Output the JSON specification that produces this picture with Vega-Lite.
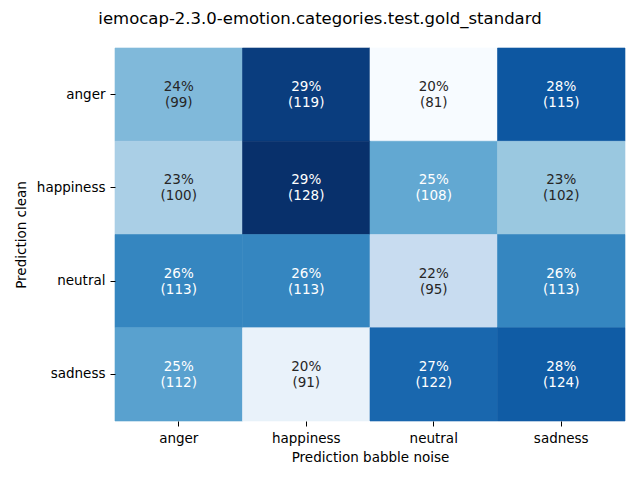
{
  "$schema": "https://vega.github.io/schema/vega-lite/v6.json",
  "width": 510,
  "height": 373,
  "autosize": {"type": "none"},
  "padding": {"left": 115, "top": 48, "right": 15, "bottom": 59},
  "background": "white",
  "config": {
    "font": "DejaVu Sans",
    "view": {"stroke": null}
  },
  "title": {
    "text": "iemocap-2.3.0-emotion.categories.test.gold_standard",
    "fontSize": 16.5,
    "fontWeight": "normal",
    "font": "DejaVu Sans",
    "color": "black",
    "anchor": "middle",
    "dx": -50,
    "offset": 20
  },
  "data": {
    "values": [
      {"clean": "anger", "babble": "anger", "count": 99, "pct": 0.23913, "label": "24%\n(99)"},
      {"clean": "anger", "babble": "happiness", "count": 119, "pct": 0.28744, "label": "29%\n(119)"},
      {"clean": "anger", "babble": "neutral", "count": 81, "pct": 0.19565, "label": "20%\n(81)"},
      {"clean": "anger", "babble": "sadness", "count": 115, "pct": 0.27778, "label": "28%\n(115)"},
      {"clean": "happiness", "babble": "anger", "count": 100, "pct": 0.22831, "label": "23%\n(100)"},
      {"clean": "happiness", "babble": "happiness", "count": 128, "pct": 0.29224, "label": "29%\n(128)"},
      {"clean": "happiness", "babble": "neutral", "count": 108, "pct": 0.24658, "label": "25%\n(108)"},
      {"clean": "happiness", "babble": "sadness", "count": 102, "pct": 0.23288, "label": "23%\n(102)"},
      {"clean": "neutral", "babble": "anger", "count": 113, "pct": 0.26037, "label": "26%\n(113)"},
      {"clean": "neutral", "babble": "happiness", "count": 113, "pct": 0.26037, "label": "26%\n(113)"},
      {"clean": "neutral", "babble": "neutral", "count": 95, "pct": 0.21889, "label": "22%\n(95)"},
      {"clean": "neutral", "babble": "sadness", "count": 113, "pct": 0.26037, "label": "26%\n(113)"},
      {"clean": "sadness", "babble": "anger", "count": 112, "pct": 0.24944, "label": "25%\n(112)"},
      {"clean": "sadness", "babble": "happiness", "count": 91, "pct": 0.20267, "label": "20%\n(91)"},
      {"clean": "sadness", "babble": "neutral", "count": 122, "pct": 0.27171, "label": "27%\n(122)"},
      {"clean": "sadness", "babble": "sadness", "count": 124, "pct": 0.27617, "label": "28%\n(124)"}
    ]
  },
  "encoding": {
    "x": {
      "field": "babble",
      "type": "nominal",
      "sort": ["anger", "happiness", "neutral", "sadness"],
      "title": "Prediction babble noise",
      "scale": {"paddingInner": 0, "paddingOuter": 0},
      "axis": {
        "labelAngle": 0,
        "labelFontSize": 13.5,
        "labelColor": "black",
        "titleFontSize": 13.5,
        "titleFontWeight": "normal",
        "titleColor": "black",
        "titlePadding": 6,
        "domain": false,
        "tickColor": "black",
        "tickSize": 5,
        "labelPadding": 5,
        "grid": false
      }
    },
    "y": {
      "field": "clean",
      "type": "nominal",
      "sort": ["anger", "happiness", "neutral", "sadness"],
      "title": "Prediction clean",
      "scale": {"paddingInner": 0, "paddingOuter": 0},
      "axis": {
        "labelFontSize": 13.5,
        "labelColor": "black",
        "titleFontSize": 13.5,
        "titleFontWeight": "normal",
        "titleColor": "black",
        "titlePadding": 8,
        "domain": false,
        "tickColor": "black",
        "tickSize": 5,
        "labelPadding": 5,
        "grid": false
      }
    }
  },
  "layer": [
    {
      "mark": {"type": "rect", "strokeWidth": 0.6},
      "encoding": {
        "color": {
          "field": "pct",
          "type": "quantitative",
          "legend": null,
          "scale": {
            "domain": [0.19565, 0.20772, 0.2198, 0.23187, 0.24395, 0.25602, 0.26809, 0.28017, 0.29224],
            "range": ["#f7fbff", "#deebf7", "#c6dbef", "#9ecae1", "#6baed6", "#4292c6", "#2171b5", "#08519c", "#08306b"]
          }
        },
        "stroke": {
          "field": "pct",
          "type": "quantitative",
          "legend": null,
          "scale": {
            "domain": [0.19565, 0.20772, 0.2198, 0.23187, 0.24395, 0.25602, 0.26809, 0.28017, 0.29224],
            "range": ["#f7fbff", "#deebf7", "#c6dbef", "#9ecae1", "#6baed6", "#4292c6", "#2171b5", "#08519c", "#08306b"]
          }
        }
      }
    },
    {
      "mark": {"type": "text", "lineBreak": "\n", "fontSize": 13.5, "lineHeight": 16, "baseline": "middle", "align": "center", "dy": -7.5},
      "encoding": {
        "text": {"field": "label"},
        "color": {
          "condition": {"test": "datum.pct > 0.24", "value": "white"},
          "value": "#262626"
        }
      }
    }
  ]
}
